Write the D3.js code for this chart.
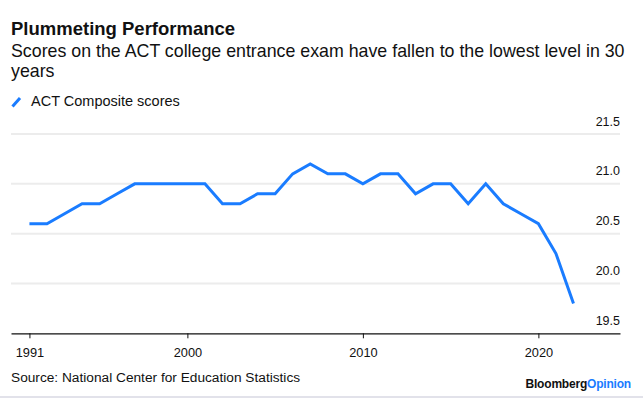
<!DOCTYPE html>
<html>
<head>
<meta charset="utf-8">
<script src="https://cdn.jsdelivr.net/npm/d3@7"></script>
<style>
  html, body { margin: 0; padding: 0; background: #fff; }
  svg { display: block; font-family: "Liberation Sans", Arial, sans-serif; }
</style>
</head>
<body>
<div id="app"></div>
<script>
// ACT composite scores, 1991-2022
const years = d3.range(1991, 2023);
const scores = [
    20.6, 20.6, 20.7, 20.8, 20.8, 20.9, 21.0, 21.0, 21.0, 21.0,
    21.0, 20.8, 20.8, 20.9, 20.9, 21.1, 21.2, 21.1, 21.1, 21.0,
    21.1, 21.1, 20.9, 21.0, 21.0, 20.8, 21.0, 20.8, 20.7, 20.6,
    20.3, 19.8
];
const yTicks = [19.5, 20.0, 20.5, 21.0, 21.5];
const xTicks = [1991, 2000, 2010, 2020];

const title = "Plummeting Performance";
const subtitle = ["Scores on the ACT college entrance exam have fallen to the lowest level in 30", "years"];
const legendLabel = "ACT Composite scores";
const source = "Source: National Center for Education Statistics";

const W = 643, H = 398;
const blue = "#1a7cff";

const svg = d3.select("#app")
    .append("svg")
    .attr("width", W)
    .attr("height", H);

// scales (the plot area runs from x=11 to x=620)
const x = d3.scaleLinear()
    .domain([1989.95, 2024.65])
    .range([11, 620]);

const y = d3.scaleLinear()
    .domain([19.5, 21.5])
    .range([333.3, 134]);

// titles
svg.append("text")
    .attr("x", 11)
    .attr("y", 35)
    .attr("font-size", "18.5px")
    .attr("font-weight", "bold")
    .attr("fill", "#111")
    .text(title);

svg.append("g")
    .selectAll("text")
    .data(subtitle)
    .enter()
    .append("text")
    .attr("x", 11)
    .attr("y", (d, i) => 56.5 + i * 20.5)
    .attr("font-size", "17.8px")
    .attr("fill", "#111")
    .text(d => d);

// legend
svg.append("line")
    .attr("x1", 12.5).attr("y1", 106.5)
    .attr("x2", 20).attr("y2", 98)
    .attr("stroke", blue)
    .attr("stroke-width", 3);

svg.append("text")
    .attr("x", 31)
    .attr("y", 106)
    .attr("font-size", "14.5px")
    .attr("fill", "#111")
    .text(legendLabel);

// gridlines and y labels
svg.append("g")
    .selectAll("line")
    .data(yTicks.filter(d => d !== 19.5))
    .enter()
    .append("line")
    .attr("x1", 11)
    .attr("x2", 620)
    .attr("y1", d => y(d))
    .attr("y2", d => y(d))
    .attr("stroke", "#ececec")
    .attr("stroke-width", 2);

svg.append("g")
    .selectAll("text")
    .data(yTicks)
    .enter()
    .append("text")
    .attr("x", 620)
    .attr("y", d => y(d) - 8.5)
    .attr("text-anchor", "end")
    .attr("font-size", "12.5px")
    .attr("fill", "#111")
    .text(d => d3.format(".1f")(d));

// x axis
const xAxis = svg.append("g")
    .attr("transform", `translate(0,${y(19.5)})`)
    .call(d3.axisBottom(x)
        .tickValues(xTicks)
        .tickFormat(d3.format("d"))
        .tickSize(5)
        .tickSizeOuter(0));

xAxis.select(".domain").attr("stroke", "#111").attr("stroke-width", 1.2);
xAxis.selectAll(".tick line").attr("stroke", "#111");
xAxis.selectAll(".tick text")
    .attr("y", 15)
    .attr("font-family", "Liberation Sans, Arial, sans-serif")
    .attr("font-size", "12.8px")
    .attr("fill", "#111");

// line
const line = d3.line()
    .x((d, i) => x(years[i]))
    .y(d => y(d));

svg.append("path")
    .datum(scores)
    .attr("fill", "none")
    .attr("stroke", blue)
    .attr("stroke-width", 3)
    .attr("stroke-linejoin", "miter")
    .attr("d", line);

// footer
svg.append("text")
    .attr("x", 11)
    .attr("y", 382)
    .attr("font-size", "13.7px")
    .attr("fill", "#111")
    .text(source);

const brand = svg.append("text")
    .attr("x", 631)
    .attr("y", 388)
    .attr("text-anchor", "end")
    .attr("font-size", "12px")
    .attr("font-weight", "bold")
    .attr("letter-spacing", "-0.2px");
brand.append("tspan").attr("fill", "#111").text("Bloomberg");
brand.append("tspan").attr("fill", blue).text("Opinion");

svg.append("rect")
    .attr("x", 0)
    .attr("y", 396)
    .attr("width", W)
    .attr("height", 2)
    .attr("fill", "#e2e2ea");
</script>
</body>
</html>
